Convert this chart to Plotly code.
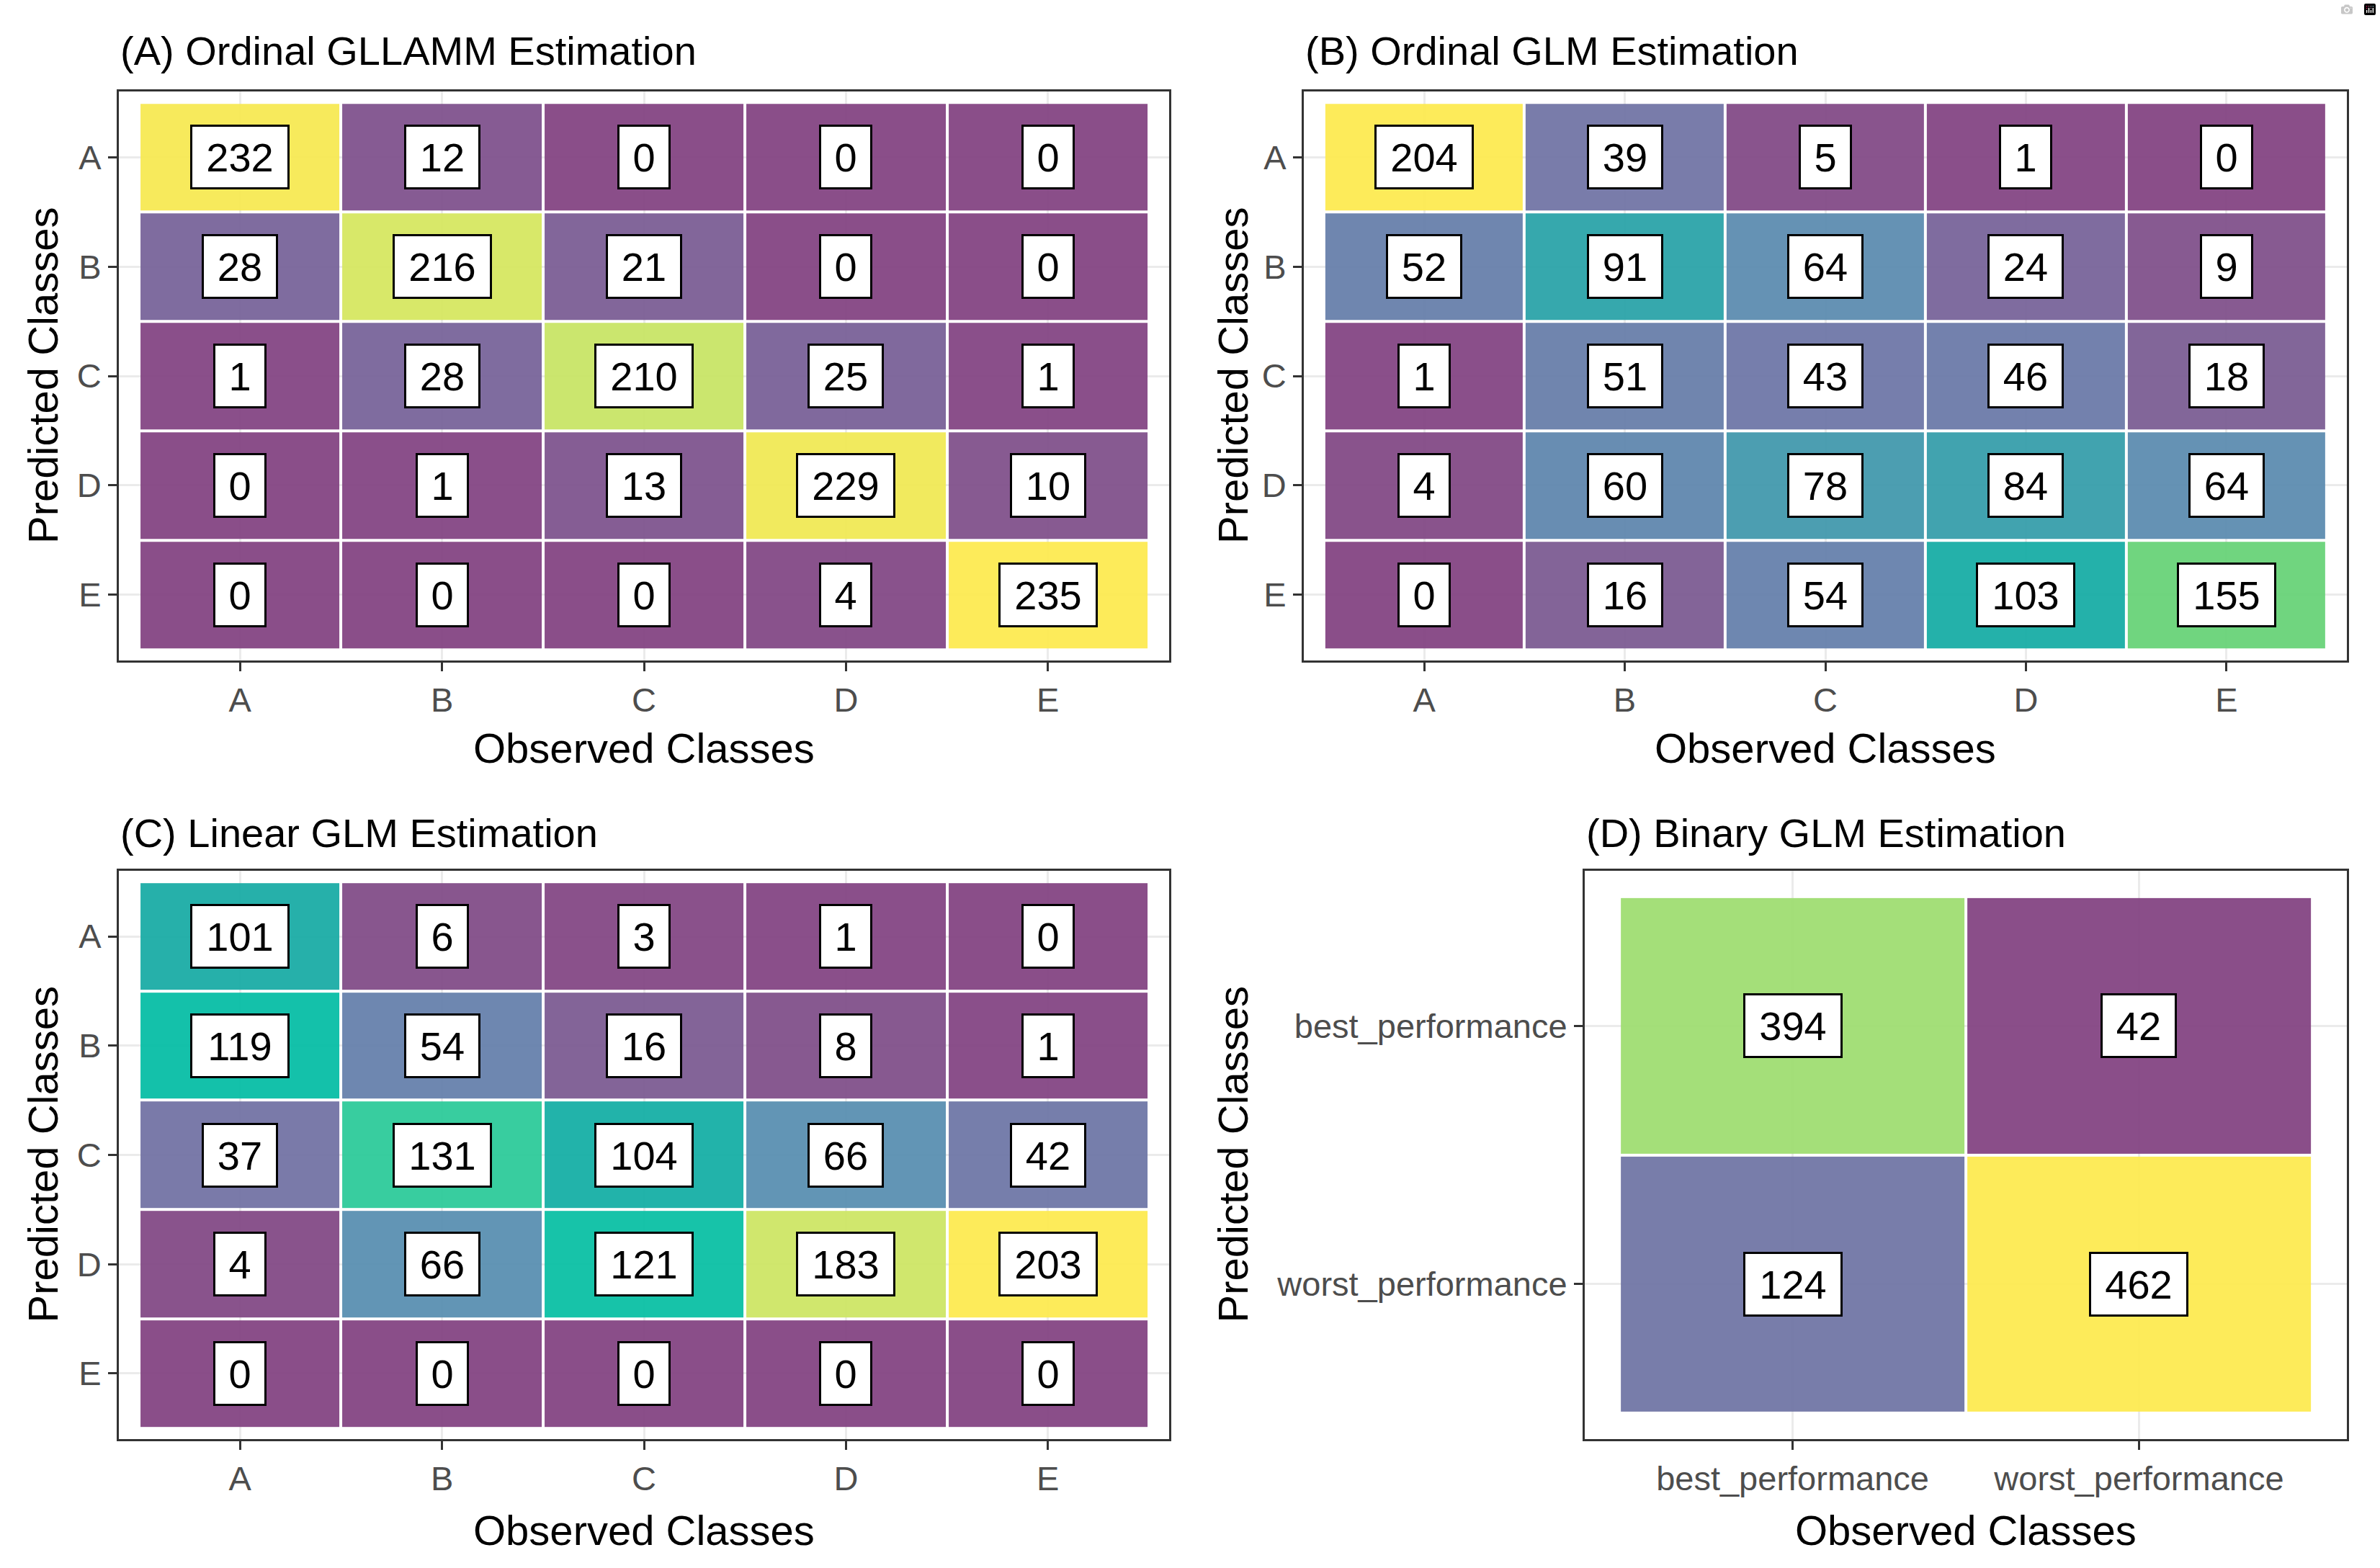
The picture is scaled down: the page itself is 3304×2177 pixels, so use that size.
import plotly.graph_objects as go

# ---------------- data ----------------
classes = ["A", "B", "C", "D", "E"]
binary_classes = ["best_performance", "worst_performance"]

gllamm_counts = [
    [232, 12, 0, 0, 0],
    [28, 216, 21, 0, 0],
    [1, 28, 210, 25, 1],
    [0, 1, 13, 229, 10],
    [0, 0, 0, 4, 235],
]
ordinal_glm_counts = [
    [204, 39, 5, 1, 0],
    [52, 91, 64, 24, 9],
    [1, 51, 43, 46, 18],
    [4, 60, 78, 84, 64],
    [0, 16, 54, 103, 155],
]
linear_glm_counts = [
    [101, 6, 3, 1, 0],
    [119, 54, 16, 8, 1],
    [37, 131, 104, 66, 42],
    [4, 66, 121, 183, 203],
    [0, 0, 0, 0, 0],
]
binary_glm_counts = [
    [394, 42],
    [124, 462],
]

panel_titles = [
    "(A) Ordinal GLLAMM Estimation",
    "(B) Ordinal GLM Estimation",
    "(C) Linear GLM Estimation",
    "(D) Binary GLM Estimation",
]
x_title = "Observed Classes"
y_title = "Predicted Classes"

# ---------------- style ----------------
W, H = 3304, 2177
FONT = "Liberation Sans, Arial, sans-serif"
OPACITY = 0.92

# target (as seen on white) colours of the viridis-like fill scale
scale_stops = [
    (0.00, (139, 78, 137)),
    (0.08, (132, 100, 153)),
    (0.19, (122, 124, 170)),
    (0.27, (110, 136, 177)),
    (0.33, (98, 150, 181)),
    (0.42, (62, 165, 175)),
    (0.50, (38, 177, 170)),
    (0.59, (0, 194, 170)),
    (0.65, (60, 206, 158)),
    (0.76, (112, 214, 128)),
    (0.84, (166, 224, 122)),
    (0.90, (208, 231, 110)),
    (1.00, (253, 236, 90)),
]


def precomp(c):
    out = []
    for ch in c:
        v = (ch - (1 - OPACITY) * 255) / OPACITY
        out.append(int(round(min(255, max(0, v)))))
    return "rgb({},{},{})".format(*out)


colorscale = [[p, precomp(c)] for p, c in scale_stops]

# (left, right, top, bottom) of each panel box, in pixels
boxes = [
    (165, 1623, 127, 917),
    (1810, 3258, 127, 917),
    (165, 1623, 1209, 1998),
    (2200, 3258, 1209, 1998),
]
panels = [
    (gllamm_counts, classes),
    (ordinal_glm_counts, classes),
    (linear_glm_counts, classes),
    (binary_glm_counts, binary_classes),
]
ytitle_x = [59, 1711, 59, 1711]
xtitle_y = [1038, 1038, 2124, 2124]
title_y = [70, 70, 1156, 1156]

fig = go.Figure()
annotations = []
layout_axes = {}

for k, ((z, cats), (l, r, t, b)) in enumerate(zip(panels, boxes)):
    idx = "" if k == 0 else str(k + 1)
    xa, ya = "x" + idx, "y" + idx
    flat = [v for row in z for v in row]
    fig.add_trace(go.Heatmap(
        z=z, x=cats, y=cats,
        xaxis=xa, yaxis=ya,
        colorscale=colorscale,
        zmin=min(flat), zmax=max(flat),
        opacity=OPACITY,
        xgap=4, ygap=4,
        showscale=False,
        hoverinfo="skip",
    ))
    n = len(cats)
    common = dict(
        showline=True, mirror=True, linecolor="#333333", linewidth=3,
        ticks="outside", ticklen=12, tickwidth=3, tickcolor="#333333",
        showgrid=True, gridcolor="#EBEBEB", gridwidth=3,
        zeroline=False, fixedrange=True,
        tickfont=dict(family=FONT, size=47, color="#4D4D4D"),
        type="category",
    )
    layout_axes["xaxis" + idx] = dict(
        common, domain=[l / W, r / W], anchor=ya,
        range=[-0.6, n - 1 + 0.6],
    )
    layout_axes["yaxis" + idx] = dict(
        common, domain=[1 - b / H, 1 - t / H], anchor=xa,
        range=[n - 1 + 0.6, -0.6],
    )
    # cell labels
    for i, row in enumerate(z):
        for j, v in enumerate(row):
            txt = str(v)
            annotations.append(dict(
                x=cats[j], y=cats[i], xref=xa, yref=ya,
                text=txt, showarrow=False,
                font=dict(family=FONT, size=56, color="black"),
                bgcolor="white", bordercolor="black", borderwidth=3,
                borderpad=6, width=32 * len(txt) + 24, height=72,
                align="center", valign="middle",
            ))
    # panel title
    annotations.append(dict(
        x=l / W, y=1 - title_y[k] / H, xref="paper", yref="paper",
        xanchor="left", yanchor="middle", showarrow=False,
        text=panel_titles[k],
        font=dict(family=FONT, size=56, color="black"),
    ))
    # axis titles
    annotations.append(dict(
        x=(l + r) / 2 / W, y=1 - xtitle_y[k] / H, xref="paper", yref="paper",
        xanchor="center", yanchor="middle", showarrow=False,
        text=x_title, font=dict(family=FONT, size=58, color="black"),
    ))
    annotations.append(dict(
        x=ytitle_x[k] / W, y=1 - (t + b) / 2 / H, xref="paper", yref="paper",
        xanchor="center", yanchor="middle", showarrow=False, textangle=-90,
        text=y_title, font=dict(family=FONT, size=58, color="black"),
    ))

fig.update_layout(
    width=W, height=H,
    margin=dict(l=0, r=0, t=0, b=0),
    paper_bgcolor="white", plot_bgcolor="white",
    showlegend=False,
    annotations=annotations,
    **layout_axes,
)

fig.write_html(
    "out.html",
    post_script="document.body.style.margin='0';document.body.style.overflow='hidden';",
)
